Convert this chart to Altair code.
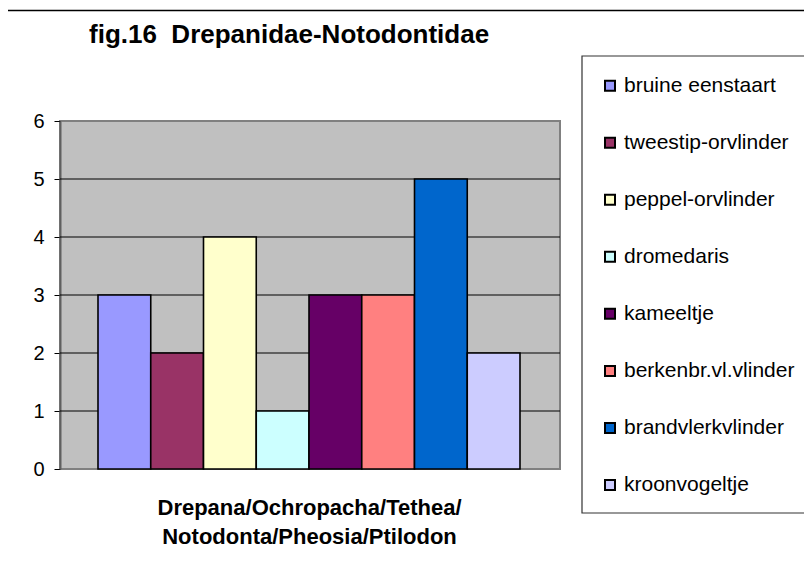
import altair as alt
import pandas as pd

species = ["bruine eenstaart", "tweestip-orvlinder", "peppel-orvlinder", "dromedaris",
           "kameeltje", "berkenbr.vl.vlinder", "brandvlerkvlinder", "kroonvogeltje"]
counts = [3, 2, 4, 1, 3, 3, 5, 2]
colors = ["#9999FF", "#993366", "#FFFFCC", "#CCFFFF", "#660066", "#FF8080", "#0066CC", "#CCCCFF"]
grid_values = [1, 2, 3, 4, 5]
y_ticks = [0, 1, 2, 3, 4, 5, 6]
title_text = "fig.16\u00a0\u00a0Drepanidae-Notodontidae"
x_title = ["Drepana/Ochropacha/Tethea/", "Notodonta/Pheosia/Ptilodon"]

FONT = "Liberation Sans"

df = pd.DataFrame({"species": species, "count": counts})
grid_df = pd.DataFrame({"v": grid_values})
title_df = pd.DataFrame({"t": [title_text]})

color_scale = alt.Scale(domain=species, range=colors)

# outer frame (top + left visible)
frame_top = alt.Chart(title_df).mark_rule(color="#000000", strokeWidth=1.5).encode(
    x=alt.value(-53.3), x2=alt.value(800), y=alt.value(-110.5))
frame_left = alt.Chart(title_df).mark_rule(color="#000000", strokeWidth=1.5).encode(
    x=alt.value(-53.3), y=alt.value(-110.5), y2=alt.value(500))

title = alt.Chart(title_df).mark_text(
    font=FONT, fontSize=26, fontWeight="bold", align="left", baseline="alphabetic", color="black"
).encode(text="t:N", x=alt.value(29), y=alt.value(-78))

gridlines = alt.Chart(grid_df).mark_rule(color="#000000", strokeWidth=1).encode(
    y=alt.Y("v:Q", scale=alt.Scale(domain=[0, 6]), axis=None))

bars = alt.Chart(df).mark_bar(stroke="#000000", strokeWidth=1.6).encode(
    x=alt.X("species:N", sort=species,
            scale=alt.Scale(domain=species, range=[38, 460], paddingInner=0, paddingOuter=0),
            axis=alt.Axis(labels=False, ticks=False, domain=False, grid=False,
                          title=x_title, titleFont=FONT, titleFontSize=22, titleFontWeight="bold",
                          titleColor="black", titleX=249, titleY=45, titleAlign="center",
                          titleBaseline="alphabetic", titleLineHeight=29, titleAngle=0)),
    y=alt.Y("count:Q", scale=alt.Scale(domain=[0, 6], nice=False),
            axis=alt.Axis(values=y_ticks, grid=False, title=None, labelFont=FONT, labelFontSize=20,
                          labelColor="black", tickColor="black", tickSize=6, tickWidth=1,
                          labelPadding=10, domainColor="#606060", domainWidth=2)),
    color=alt.Color("species:N", scale=color_scale, legend=None),
)

legend_box = alt.Chart(title_df).mark_rect(fill="white", stroke="#333333", strokeWidth=1.2).encode(
    x=alt.value(522), x2=alt.value(780), y=alt.value(-65), y2=alt.value(392))

leg_y = alt.Y("species:N", sort=species,
              scale=alt.Scale(domain=species, range=[-35.3, 364], padding=0), axis=None)

legend_sq = alt.Chart(df).mark_square(size=100, stroke="#000000", strokeWidth=2, opacity=1).encode(
    x=alt.value(550), y=leg_y,
    color=alt.Color("species:N", scale=color_scale, legend=None))

legend_txt = alt.Chart(df).mark_text(
    font=FONT, fontSize=21, align="left", baseline="middle", color="black"
).encode(x=alt.value(564), y=leg_y, text="species:N")

chart = alt.layer(
    frame_top, frame_left, title, legend_box, gridlines, bars, legend_sq, legend_txt
).resolve_scale(y="independent").properties(
    width=500, height=348,
    autosize=alt.AutoSizeParams(type="none"),
    padding={"left": 52, "top": 113, "right": 244, "bottom": 99},
).configure_view(fill="#C0C0C0", stroke="#808080", strokeWidth=2)

chart.save("out.html", embed_options={"renderer": "svg", "actions": False})
